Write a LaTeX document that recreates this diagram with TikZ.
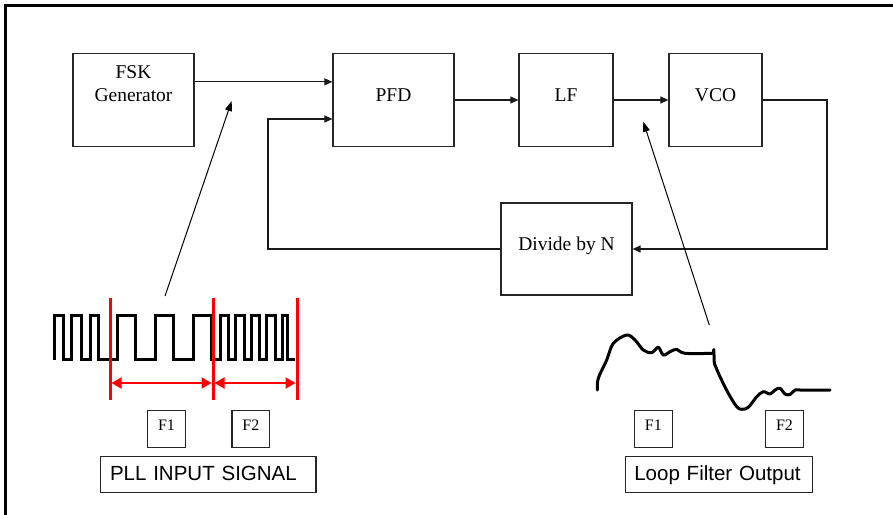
\documentclass[tikz,border=0pt]{standalone}
\usepackage{fontspec}
\setmainfont{Liberation Serif}
\newfontfamily\arialf{Liberation Sans}
\usetikzlibrary{arrows.meta,calc}
\begin{document}
\begin{tikzpicture}[x=1pt,y=-1pt,
  blk/.style={draw=black!85, line width=1.2pt, inner sep=0pt,
    font=\fontsize{19.5}{23}\selectfont, text height=13pt, text depth=9.5pt},
  fbox/.style={draw=black!85, line width=1.2pt, inner sep=0pt,
    minimum width=37.6pt, minimum height=36.6pt,
    font=\fontsize{16}{19}\selectfont, text height=11pt, text depth=7.6pt},
  capbox/.style={draw=black!85, line width=1.2pt, inner ysep=0pt, align=left,
    minimum height=36pt, font=\arialf\fontsize{20.5}{24}\selectfont,
    text height=15pt, text depth=3pt},
  conn/.style={draw=black!90, line width=1.1pt, -{Triangle[length=8pt,width=7pt]}},
  ptr/.style={draw=black, line width=1pt, -{Triangle[length=10pt,width=7pt]}},
  wave/.style={draw=black, line width=3pt, line join=miter},
  redline/.style={draw=red, line width=3pt},
  redarr/.style={draw=red, line width=2pt, {Triangle[length=10pt,width=11pt]}-{Triangle[length=10pt,width=11pt]}}
]
\useasboundingbox (0,0) rectangle (893,514);
\fill[white] (0,0) rectangle (893,514);
% outer frame
\draw[line width=2.5pt] (5.5,520) -- (5.5,5.5) -- (900,5.5);

% blocks
\node[blk, minimum width=121pt, minimum height=93pt, text height=36pt, text depth=34pt] (fsk) at (133.5,100)
  {\parbox[b]{110pt}{\centering\fontsize{19.5}{23}\selectfont FSK\\Generator}};
\node[blk, minimum width=121pt, minimum height=93pt] (pfd) at (393.5,100) {PFD};
\node[blk, minimum width=94pt, minimum height=93pt] (lf) at (566,100) {LF};
\node[blk, minimum width=93pt, minimum height=93pt] (vco) at (715.5,100) {VCO};
\node[blk, minimum width=131pt, minimum height=92pt] (div) at (566.5,249) {Divide by N};

% connectors
\coordinate (fskout) at ($(fsk.north east)!0.307!(fsk.south east)$);
\draw[conn] (fskout) -- (fskout -| pfd.west);
\draw[conn] (pfd.east) -- (lf.west);
\draw[conn] (lf.east) -- (vco.west);
\coordinate (vcoturn) at (827,100);
\draw[conn] (vco.east) -- (vcoturn) |- (div.east);
\coordinate (fbturn) at (268,119);
\draw[conn] (div.west) -| (fbturn) -- (fbturn -| pfd.west);

% pointer arrows
\coordinate (ptrLtail) at (165,296);
\coordinate (ptrLtip) at (231.7,101);
\draw[ptr] (ptrLtail) -- (ptrLtip);
\coordinate (ptrRtail) at (709.3,325);
\coordinate (ptrRtip) at (643.3,121.7);
\draw[ptr] (ptrRtail) -- (ptrRtip);

% input square wave
\draw[wave] (54.3,359.5) |- (63.3,315) |- (71.7,359.5) |- (81,315) |- (90,359.5) |- (98.3,315)
  |- (117.7,359.5) |- (135.7,315) |- (155.5,359.5) |- (173.3,315)
  |- (193.3,359.5) |- (211.7,315) |- (220,359.5) |- (228,315) |- (235.5,359.5) |- (244,315)
  |- (251,359.5) |- (259.5,315) |- (266.5,359.5) |- (275,315) |- (282,359.5) |- (287.5,315)
  |- (295,359.5);

% red markers
\coordinate (ra) at (110,298); \coordinate (rb) at (213,298); \coordinate (rc) at (297,298);
\draw[redline] (ra) -- ++(0,102);
\draw[redline] (rb) -- ++(0,102);
\draw[redline] (rc) -- ++(0,102);
\draw[redarr] ($(ra)+(1.5,85)$) -- ($(rb)+(-1.5,85)$);
\draw[redarr] ($(rb)+(1.5,85)$) -- ($(rc)+(-1.5,85)$);

% loop filter output curve
\draw[line width=3pt, line cap=round, line join=round]
  plot[smooth, tension=0.55] coordinates {(597.3,390) (598.3,378.3) (606.7,360) (613.3,343.3)
    (626.7,335) (635,340) (643.3,350) (651.7,352.7) (658.3,347.3) (663.3,355) (670,351.7)
    (676.7,349.3) (685,353.3) (713.3,353.3)}
  -- (713.8,349.5) --
  plot[smooth, tension=0.55] coordinates {(714.3,363.3) (720,376.7) (728.3,393.3) (736.7,406.7)
    (741.7,409.3) (748.3,407.3) (756.7,396.7) (763.3,391.7) (770,394) (775,390) (780,388.3)
    (785,394) (790,394.5) (795,390) (800,390) (806.7,390) (830,390)};

% F boxes and captions
\node[fbox] (f1a) at (166.5,429) {F1};
\node[fbox] (f2a) at (250.8,429) {F2};
\node[capbox, inner xsep=9.3pt, text width=196.7pt] (pll) at (208.35,474.7) {PLL INPUT SIGNAL};
\node[fbox] (f1b) at (653.3,429) {F1};
\node[fbox] (f2b) at (784.5,429) {F2};
\node[capbox, inner xsep=8.6pt, text width=169.4pt] (lfo) at (719,474.7) {Loop Filter Output};
\end{tikzpicture}
\end{document}
